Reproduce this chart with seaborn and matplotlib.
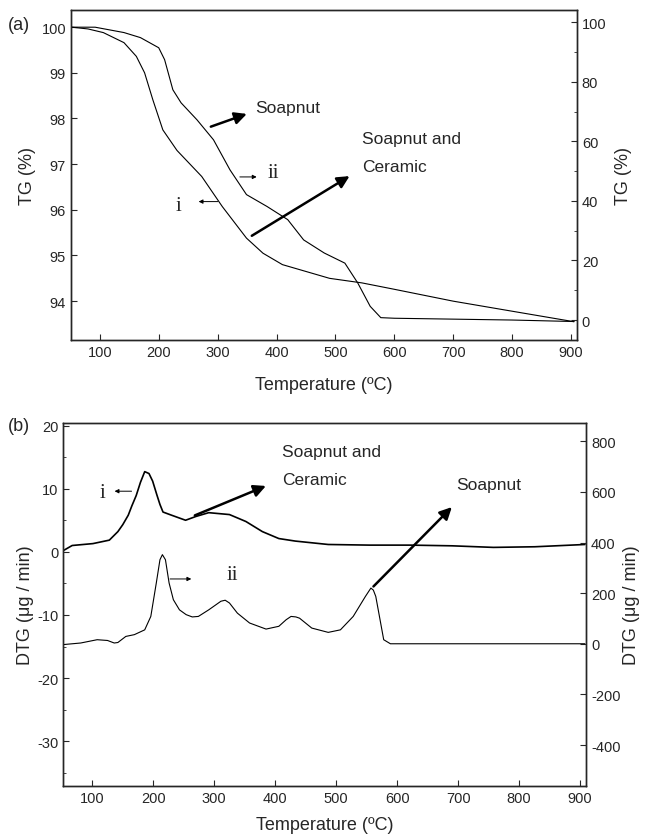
import matplotlib
matplotlib.use("Agg")
import matplotlib.pyplot as plt
from matplotlib.ticker import MultipleLocator
import seaborn as sns
import pandas as pd

# (a) TG curves
tg_i_temp = [51, 80, 106, 141, 162, 176, 190, 207, 231, 273, 308, 349, 377, 410, 490, 545, 600, 700, 800, 905]
tg_i_val = [100.0, 99.96, 99.88, 99.66, 99.36, 99.0, 98.41, 97.75, 97.3, 96.73, 96.07, 95.38, 95.05, 94.8,
            94.5, 94.4, 94.26, 94.0, 93.78, 93.55]

tg_ii_temp = [51, 92, 141, 169, 200, 210, 224, 238, 265, 293, 321, 349, 384, 419, 446, 481, 516, 538, 559, 577,
              600, 700, 800, 905]
tg_ii_val = [98.3, 98.3, 96.5, 94.8, 91.4, 87.4, 77.3, 72.9, 67.2, 60.5, 50.4, 42.1, 38.1, 33.7, 26.9, 22.5,
             19.1, 12.4, 4.6, 0.8, 0.6, 0.3, 0.0, -0.5]

# (b) DTG curves
dtg_i_temp = [49, 67, 101, 128, 142, 150, 159, 165, 172, 179, 186, 193, 199, 206, 211, 216, 230, 253, 270, 291,
              325, 352, 379, 406, 433, 487, 555, 622, 690, 758, 826, 908]
dtg_i_val = [0.0, 1.0, 1.3, 1.85, 3.2, 4.3, 5.8, 7.3, 8.9, 11.0, 12.7, 12.4, 11.2, 9.0, 7.5, 6.3, 5.8, 5.0, 5.6,
             6.2, 5.9, 4.8, 3.2, 2.1, 1.7, 1.16, 1.06, 1.06, 0.95, 0.7, 0.8, 1.16]

dtg_ii_temp = [49, 81, 108, 125, 136, 142, 155, 169, 186, 196, 205, 211, 215, 220, 226, 233, 243, 254, 264, 274,
               291, 311, 318, 325, 338, 358, 385, 406, 418, 426, 434, 440, 460, 487, 507, 528, 548, 557, 561,
               565, 572, 578, 589, 908]
dtg_ii_val = [-4, 3, 16, 13, 3, 5, 29, 36, 55, 108, 240, 332, 352, 332, 240, 174, 134, 115, 106, 108,
              134, 168, 172, 161, 121, 82, 58, 69, 95, 108, 106, 101, 62, 45, 55, 108, 187, 220, 212,
              187, 95, 16, 0, 0]

temp_ticks = [100, 200, 300, 400, 500, 600, 700, 800, 900]

sns.set_style("ticks")
plt.rcParams['font.family'] = ['Liberation Sans', 'DejaVu Sans']
plt.rcParams['xtick.direction'] = 'in'
plt.rcParams['ytick.direction'] = 'in'
plt.rcParams['axes.linewidth'] = 1.0
plt.rcParams['axes.unicode_minus'] = False

fig = plt.figure(figsize=(6.45, 8.37), dpi=100)

big = dict(arrowstyle='-|>', lw=1.8, color='black', mutation_scale=18)
small = dict(arrowstyle='-|>', lw=0.7, color='black', mutation_scale=6)
serif = ['Liberation Serif', 'DejaVu Serif']

# ---------- (a) ----------
ax1 = fig.add_axes([0.110, 0.5926, 0.7845, 0.394])
ax1r = ax1.twinx()
df_i = pd.DataFrame({'T': tg_i_temp, 'TG': tg_i_val})
df_ii = pd.DataFrame({'T': tg_ii_temp, 'TG': tg_ii_val})
sns.lineplot(data=df_i, x='T', y='TG', ax=ax1, color='black', lw=0.8, sort=False)
sns.lineplot(data=df_ii, x='T', y='TG', ax=ax1r, color='black', lw=0.8, sort=False)
ax1.set_xlim(51, 910)
ax1.set_ylim(93.15, 100.37)
ax1r.set_ylim(-6.7, 104)
ax1.set_xticks(temp_ticks)
ax1.set_yticks([94, 95, 96, 97, 98, 99, 100])
ax1r.set_yticks([0, 20, 40, 60, 80, 100])
ax1r.yaxis.set_minor_locator(MultipleLocator(10))
ax1.set_xlabel('Temperature (ºC)', fontsize=13, labelpad=12)
ax1.set_ylabel('TG (%)', fontsize=13, labelpad=4)
ax1r.set_ylabel('TG (%)', fontsize=13, rotation=90, labelpad=6)
for a in (ax1, ax1r):
    a.tick_params(labelsize=10.5, length=4, width=0.8)
    a.tick_params(which='minor', length=2.5, width=0.6)

ax1.annotate('', xy=(354, 98.12), xytext=(284, 97.8), arrowprops=big)
ax1.text(364, 98.23, 'Soapnut', fontsize=12.5, va='center')
ax1.annotate('', xy=(528, 96.77), xytext=(354, 95.4), arrowprops=big)
ax1.text(545, 97.57, 'Soapnut and', fontsize=12.5, va='center')
ax1.text(545, 96.95, 'Ceramic', fontsize=12.5, va='center')
ax1.annotate('', xy=(371, 96.72), xytext=(333, 96.72), arrowprops=small)
ax1.text(385, 96.82, 'ii', fontsize=15, va='center', family=serif)
ax1.annotate('', xy=(263, 96.18), xytext=(305, 96.18), arrowprops=small)
ax1.text(228, 96.1, 'i', fontsize=15, va='center', family=serif)
fig.text(0.012, 0.970, '(a)', fontsize=13, va='center')

# ---------- (b) ----------
ax2 = fig.add_axes([0.0977, 0.0597, 0.811, 0.4337])
ax2r = ax2.twinx()
df_di = pd.DataFrame({'T': dtg_i_temp, 'DTG': dtg_i_val})
df_dii = pd.DataFrame({'T': dtg_ii_temp, 'DTG': dtg_ii_val})
sns.lineplot(data=df_di, x='T', y='DTG', ax=ax2, color='black', lw=1.2, sort=False)
sns.lineplot(data=df_dii, x='T', y='DTG', ax=ax2r, color='black', lw=0.8, sort=False)
ax2.set_xlim(52, 910)
ax2.set_ylim(-37.1, 20.4)
ax2r.set_ylim(-562, 872)
ax2.set_xticks(temp_ticks)
ax2.set_yticks([-30, -20, -10, 0, 10, 20])
ax2.yaxis.set_minor_locator(MultipleLocator(5))
ax2r.set_yticks([-400, -200, 0, 200, 400, 600, 800])
ax2.set_xlabel('Temperature (ºC)', fontsize=13, labelpad=8)
ax2.set_ylabel('DTG (μg / min)', fontsize=13, labelpad=2)
ax2r.set_ylabel('DTG (μg / min)', fontsize=13, rotation=90, labelpad=2)
for a in (ax2, ax2r):
    a.tick_params(labelsize=10.5, length=4, width=0.8)
    a.tick_params(which='minor', length=2.5, width=0.6)

ax2.annotate('', xy=(132, 9.6), xytext=(169, 9.6), arrowprops=small)
ax2.text(112, 9.4, 'i', fontsize=15, va='center', family=serif)
ax2.annotate('', xy=(389, 10.6), xytext=(264, 5.6), arrowprops=big)
ax2.text(412, 15.9, 'Soapnut and', fontsize=12.5, va='center')
ax2.text(412, 11.4, 'Ceramic', fontsize=12.5, va='center')
ax2.annotate('', xy=(693, 7.4), xytext=(558, -5.8), arrowprops=big)
ax2.text(697, 10.6, 'Soapnut', fontsize=12.5, va='center')
ax2.annotate('', xy=(267, -4.3), xytext=(223, -4.3), arrowprops=small)
ax2.text(320, -3.6, 'ii', fontsize=15, va='center', family=serif)
fig.text(0.012, 0.490, '(b)', fontsize=13, va='center')

fig.savefig('out.png', dpi=100)
